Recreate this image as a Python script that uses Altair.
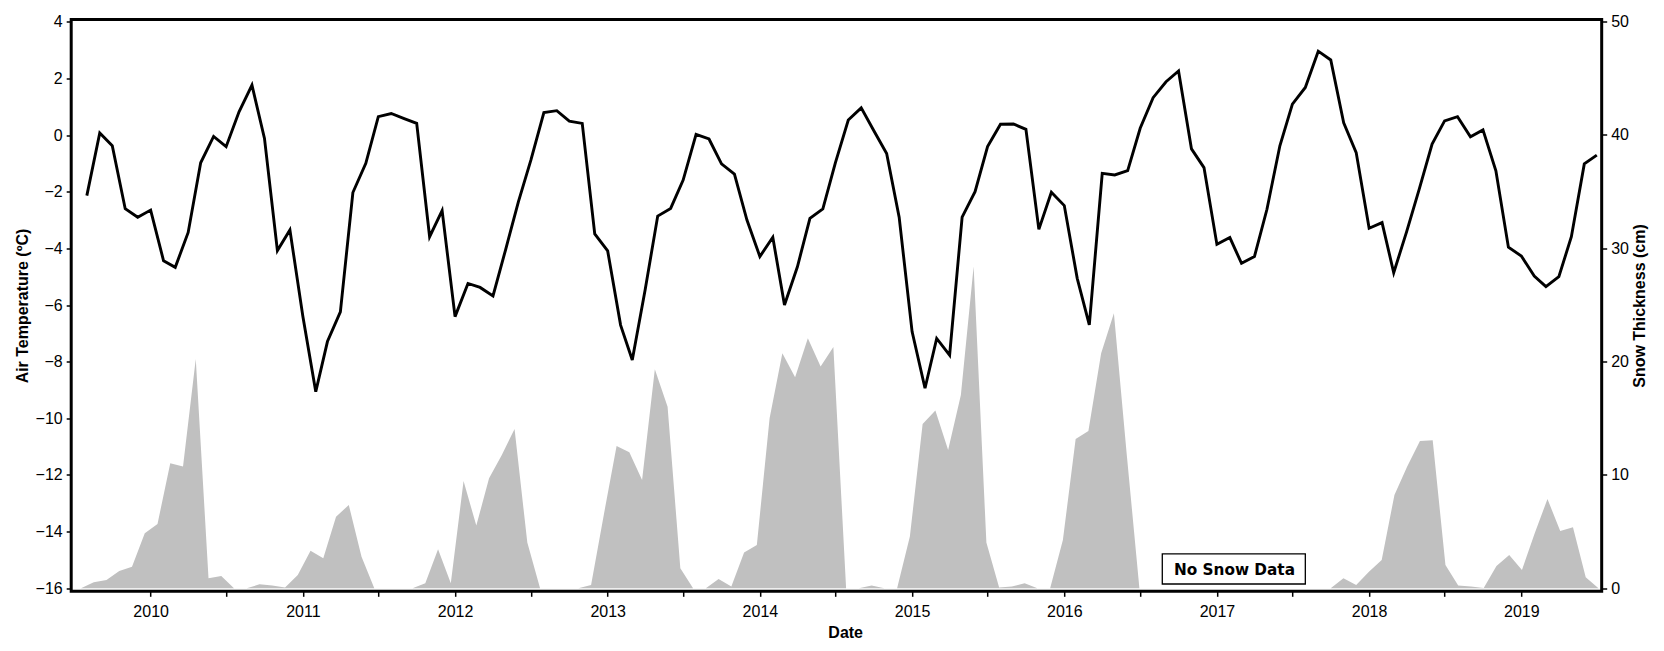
import altair as alt
import pandas as pd

# ---------------- data ----------------
temp_start = "2009-08-01"  # monthly values, first of month
temp_values = [
    -2.14, 0.07, -0.38, -2.6, -2.9,                                          # 2009 Aug-Dec
    -2.65, -4.44, -4.67, -3.44, -0.98, -0.05, -0.41, 0.82, 1.76, -0.12, -4.08, -3.35,  # 2010
    -6.4, -9.06, -7.29, -6.24, -2.03, -1.0, 0.65, 0.76, 0.58, 0.41, -3.59, -2.67,      # 2011
    -6.41, -5.24, -5.38, -5.68, -4.06, -2.35, -0.88, 0.79, 0.86, 0.49, 0.41, -3.49,    # 2012
    -4.09, -6.71, -7.94, -5.45, -2.86, -2.59, -1.59, 0.02, -0.14, -1.02, -1.38, -3.0,  # 2013
    -4.29, -3.61, -6.0, -4.65, -2.94, -2.61, -0.98, 0.53, 0.96, 0.16, -0.65, -2.9,     # 2014
    -6.94, -8.94, -7.18, -7.77, -2.9, -2.0, -0.41, 0.38, 0.39, 0.2, -3.33, -2.02,      # 2015
    -2.49, -5.06, -6.7, -1.35, -1.41, -1.26, 0.24, 1.32, 1.88, 2.26, -0.49, -1.15,     # 2016
    -3.86, -3.62, -4.53, -4.29, -2.62, -0.38, 1.09, 1.68, 2.96, 2.65, 0.43, -0.62,     # 2017
    -3.29, -3.09, -4.86, -3.41, -1.92, -0.32, 0.5, 0.65, -0.06, 0.18, -1.26, -3.96,    # 2018
    -4.27, -4.98, -5.35, -5.0, -3.59, -1.02, -0.71,                                    # 2019 Jan-Jul
]

snow_first_date = "2009-07-18"
snow_last_date = "2019-07-05"
snow_values = [
    0, 0.53, 0.74, 1.53, 1.91, 4.85, 5.68, 11.03, 10.74, 20.24,
    0.88, 1.09, 0, 0, 0.35, 0.24, 0.06, 1.18, 3.32, 2.65,
    6.32, 7.35, 2.79, 0, 0, 0, 0, 0.44, 3.44, 0.44,
    9.47, 5.53, 9.71, 11.76, 14.06, 4.03, 0, 0, 0, 0,
    0.29, 6.5, 12.56, 12.0, 9.56, 19.32, 16.03, 1.76, 0, 0,
    0.82, 0.15, 3.15, 3.82, 15.0, 20.74, 18.62, 22.06, 19.56, 21.3,
    0, 0, 0.24, 0, 0, 4.56, 14.5, 15.68, 12.2, 17.06,
    28.39, 4.03, 0.06, 0.15, 0.44, 0, 0, 4.26, 13.18, 13.88,
    20.74, 24.27, 11.9, 0, 0, 0, 0, 0, 0, 0,
    0, 0, 0, 0, 0, 0, 0, 0, 0, 0.88,
    0.29, 1.47, 2.5, 8.24, 10.74, 13.0, 13.06, 2.06, 0.24, 0.15,
    0.03, 1.97, 2.94, 1.62, 4.85, 7.88, 5.06, 5.38, 0.97, 0,
]

note_label = ["No Snow Data"]
note_start = ["2016-08-23"]
note_end = ["2017-08-01"]
note_low = [0.38]
note_high = [3.03]
note_mid_date = ["2017-02-12"]
note_mid_value = [1.62]

temp_ticks = list(range(-16, 5, 2))
snow_ticks = [0, 10, 20, 30, 40, 50]
year_tick_dates = [alt.DateTime(year=y, month=m, date=1)
                   for y in range(2010, 2020) for m in (1, 7)
                   if not (y == 2019 and m == 7)]

# ---------------- tables ----------------
temp_df = pd.DataFrame({
    "date": pd.date_range(temp_start, periods=len(temp_values), freq="MS"),
    "temp": temp_values,
})
snow_df = pd.DataFrame({
    "date": pd.date_range(snow_first_date, snow_last_date, periods=len(snow_values)),
    "snow": snow_values,
})
note_df = pd.DataFrame({
    "label": note_label,
    "start": pd.to_datetime(note_start),
    "end": pd.to_datetime(note_end),
    "low": note_low,
    "high": note_high,
    "mid": pd.to_datetime(note_mid_date),
    "midv": note_mid_value,
})

# ---------------- scales & axes ----------------
x_scale = alt.Scale(
    domain=[alt.DateTime(year=2009, month=6, date=24, hours=12),
            alt.DateTime(year=2019, month=7, date=12, hours=17)],
    nice=False,
)
x_axis = alt.Axis(
    title="Date", values=year_tick_dates,
    labelExpr="month(datum.value) == 0 ? timeFormat(datum.value, '%Y') : ''",
    titleX=774, titleY=46, titleBaseline="alphabetic", titleAlign="center",
    labelPadding=7,
)
temp_scale = alt.Scale(domain=[-16.106, 4.078], nice=False, zero=False)
snow_scale = alt.Scale(domain=[-0.265, 50.19], nice=False, zero=False)
temp_axis = alt.Axis(
    title="Air Temperature (ºC)", orient="left", values=temp_ticks,
    titleAngle=270, titleX=-43.7, titleY=286, titleBaseline="alphabetic",
    titleAlign="center",
)
snow_axis = alt.Axis(
    title="Snow Thickness (cm)", orient="right", values=snow_ticks,
    titleAngle=270, titleX=42.8, titleY=286, titleBaseline="alphabetic",
    titleAlign="center",
)

# ---------------- marks ----------------
area = alt.Chart(snow_df).mark_area(color="#c0c0c0", opacity=1).encode(
    x=alt.X("date:T", scale=x_scale, axis=x_axis),
    y=alt.Y("snow:Q", scale=snow_scale, axis=snow_axis),
)
box = alt.Chart(note_df).mark_rect(fill="white", stroke="black", strokeWidth=1.3).encode(
    x=alt.X("start:T", scale=x_scale, axis=x_axis),
    x2="end:T",
    y=alt.Y("low:Q", scale=snow_scale, axis=snow_axis),
    y2="high:Q",
)
label = alt.Chart(note_df).mark_text(
    font="DejaVu Sans", fontWeight="bold", fontSize=15.3, color="black",
    align="center", baseline="middle",
).encode(
    x=alt.X("mid:T", scale=x_scale, axis=x_axis),
    y=alt.Y("midv:Q", scale=snow_scale, axis=snow_axis),
    text="label:N",
)
snow_layer = alt.layer(area, box, label)

line = alt.Chart(temp_df).mark_line(color="black", strokeWidth=2.9).encode(
    x=alt.X("date:T", scale=x_scale, axis=x_axis),
    y=alt.Y("temp:Q", scale=temp_scale, axis=temp_axis),
)

chart = (
    alt.layer(snow_layer, line)
    .resolve_scale(y="independent")
    .properties(
        width=1530.5, height=571.8,
        padding={"left": 63.2, "top": 11.5, "right": 52, "bottom": 48},
        autosize=alt.AutoSizeParams(type="none"),
    )
    .configure_axis(
        labelFont="Liberation Sans", labelFontSize=16, labelColor="black",
        titleFont="Liberation Sans", titleFontSize=16, titleFontWeight="bold",
        titleColor="black", tickColor="black", tickWidth=1.5, tickSize=5,
        domain=False, grid=False, labelPadding=4,
    )
    .configure_view(stroke="black", strokeWidth=3)
)

chart.save("out.html", embed_options={"renderer": "svg", "actions": False})
